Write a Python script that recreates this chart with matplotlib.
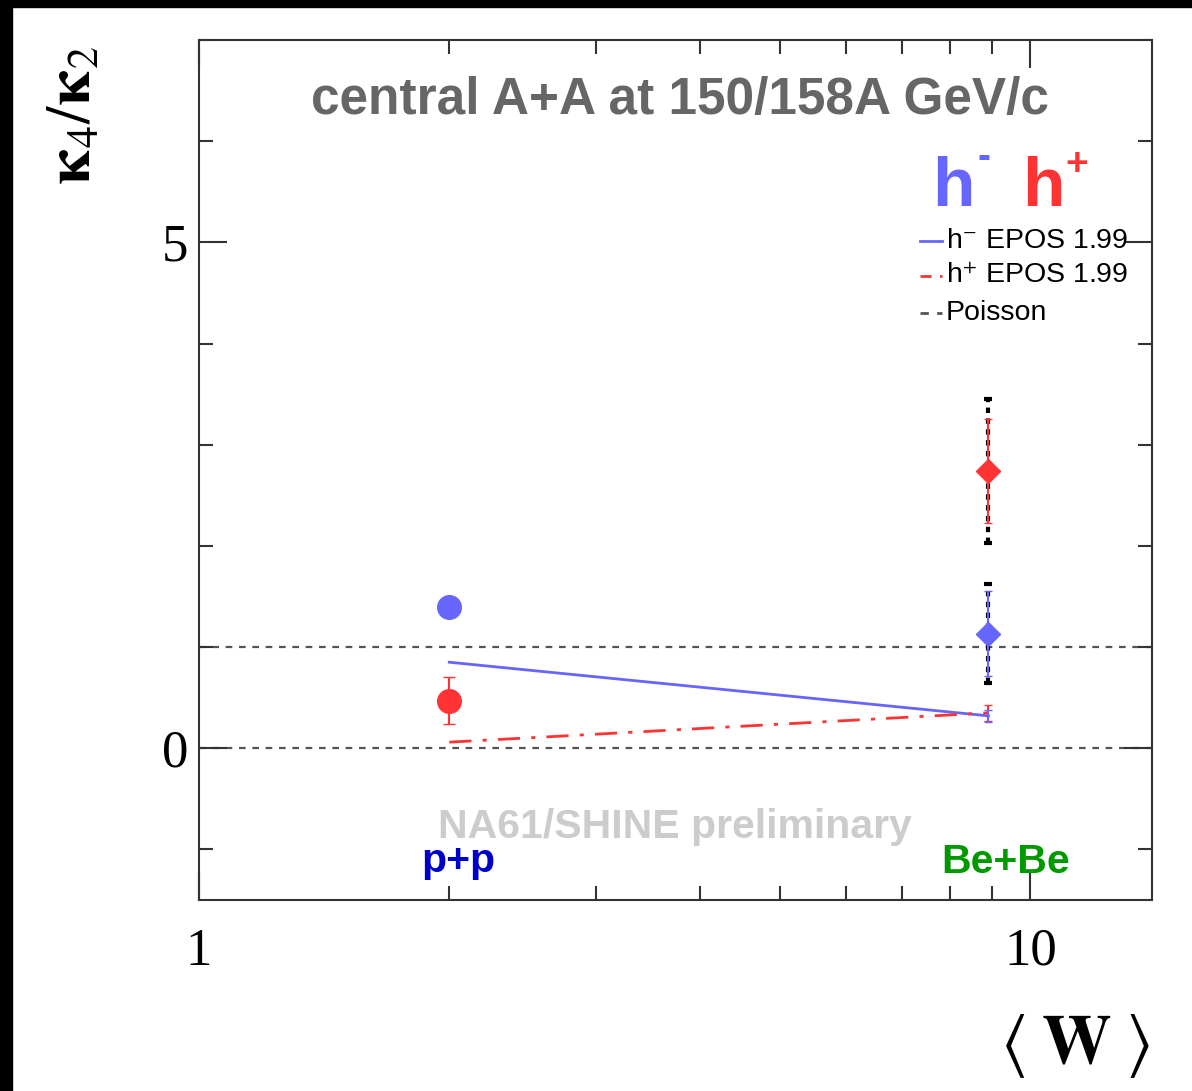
import numpy as np
import matplotlib
matplotlib.use('Agg')
import matplotlib.pyplot as plt
from matplotlib.patches import Rectangle

plt.rcParams['mathtext.fontset'] = 'stix'

# data
w_pp = 2.0
w_bebe = 8.9
w_data = [w_pp, w_bebe]

hm_vals = [1.40, 1.13]      # h- kappa4/kappa2
hm_stat = [0.05, 0.42]
hm_sys = [0.0, 0.49]
hp_vals = [0.47, 2.74]      # h+ kappa4/kappa2
hp_stat = [0.23, 0.51]
hp_sys = [0.0, 0.71]

epos_w = [2.0, 8.9]
epos_hm = [0.85, 0.32]
epos_hm_err = [0.0, 0.06]
epos_hp = [0.06, 0.35]
epos_hp_err = [0.0, 0.08]

poisson_levels = [1.0, 0.0]

blue = '#6666ff'
red = '#ff3333'
gray = '#555555'

fig = plt.figure(figsize=(11.92, 10.91), dpi=100)
ax = fig.add_axes([199/1192, (1091-900)/1091, (1152-199)/1192, (900-40)/1091])
ax.set_xscale('log')
ax.set_xlim(1, 14)
ax.set_ylim(-1.5, 7)

# poisson reference
for lv in poisson_levels:
    ax.axhline(lv, color=gray, ls=(0, (3, 3)), lw=1.6, zorder=1)

# EPOS curves
ax.plot(epos_w, epos_hm, color=blue, lw=2, zorder=2)
ax.plot(epos_w, epos_hp, color=red, lw=2, ls=(0, (8, 4, 1.5, 4)), zorder=2)
ax.errorbar(epos_w[1:], epos_hp[1:], yerr=epos_hp_err[1:], fmt='none', ecolor=red, elinewidth=1.5, capsize=3)
ax.errorbar(epos_w[1:], epos_hm[1:], yerr=epos_hm_err[1:], fmt='none', ecolor=blue, elinewidth=1.5, capsize=3)

# systematic errors (black dashed)
for vals, sysv in [(hp_vals, hp_sys), (hm_vals, hm_sys)]:
    eb = ax.errorbar(w_data[1:], vals[1:], yerr=sysv[1:], fmt='none', ecolor='black',
                     elinewidth=3, capsize=3, capthick=3, zorder=3)
    eb[2][0].set_linestyle((0, (1.3, 1.3)))

# stat errors + markers
ax.errorbar([w_pp], [hp_vals[0]], yerr=[hp_stat[0]], fmt='o', color=red, ms=17,
            elinewidth=1.5, capsize=4, zorder=4)
ax.errorbar([w_pp], [hm_vals[0]], yerr=[hm_stat[0]], fmt='o', color=blue, ms=17,
            elinewidth=1.5, capsize=4, zorder=4)
ax.errorbar([w_bebe], [hp_vals[1]], yerr=[hp_stat[1]], fmt='D', color=red, ms=12,
            elinewidth=1.5, capsize=3, zorder=4)
ax.errorbar([w_bebe], [hm_vals[1]], yerr=[hm_stat[1]], fmt='D', color=blue, ms=12,
            elinewidth=1.5, capsize=3, zorder=4)

# frame and ticks
for sp in ax.spines.values():
    sp.set_color('#333333')
    sp.set_linewidth(1.5)
ax.set_yticks([0, 5])
ax.set_yticklabels(['0', '5'])
ax.set_yticks(np.arange(-1, 8, 1), minor=True)
ax.set_xticks([1, 10])
ax.set_xticklabels(['1', '10'])
ax.xaxis.set_minor_formatter(plt.NullFormatter())
ax.tick_params(which='both', direction='in', top=True, right=True, color='#333333', width=1.5)
ax.tick_params(which='major', length=20)
ax.tick_params(which='minor', length=10)
ax.tick_params(axis='y', which='major', pad=8, labelsize=38)
ax.tick_params(axis='x', which='major', pad=20, labelsize=38)
for lab in ax.get_xticklabels() + ax.get_yticklabels():
    lab.set_fontfamily('Liberation Serif')

# axis titles
fig.text(74/1192, 1 - 115/1091, r'$\mathbf{\kappa}_4/\mathbf{\kappa}_2$', rotation=90,
         ha='center', va='center', fontsize=45)
fig.text(1075/1192, 1 - 1046/1091, r'$\langle\;\mathbf{W}\;\rangle$', ha='center', va='center', fontsize=50)

# annotations
ax.text(0.505, 0.93, 'central A+A at 150/158A GeV/c', transform=ax.transAxes, ha='center', va='center',
        fontsize=37, fontweight='bold', color='#666666', family='Liberation Sans')
# big h- / h+ labels
fig.text(953/1192, 1 - 188/1091, 'h', ha='center', va='center', fontsize=50,
         fontweight='bold', color=blue, family='Liberation Sans')
fig.text(984/1192, 1 - 158/1091, '-', ha='center', va='center', fontsize=28,
         fontweight='bold', color=blue, family='Liberation Sans')
fig.text(1043/1192, 1 - 188/1091, 'h', ha='center', va='center', fontsize=50,
         fontweight='bold', color=red, family='Liberation Sans')
fig.text(1077/1192, 1 - 165/1091, '+', ha='center', va='center', fontsize=28,
         fontweight='bold', color=red, family='Liberation Sans')

leg_y = [241, 276, 313]
leg_txt = [r'h$^{-}$ EPOS 1.99', r'h$^{+}$ EPOS 1.99', 'Poisson']
leg_col = [blue, red, gray]
leg_ls = ['-', (0, (4, 3, 1, 3)), (0, (3, 3))]
for yy, tt, cc, ls in zip(leg_y, leg_txt, leg_col, leg_ls):
    fy = 1 - yy/1091
    fig.add_artist(plt.Line2D([920/1192, 942/1192], [fy, fy], color=cc, ls=ls, lw=2))
    fig.text(946/1192, fy, tt, ha='left', va='center', fontsize=20.5, family='Liberation Sans')

fig.text(675/1192, 1 - 827/1091, 'NA61/SHINE preliminary', ha='center', va='center', fontsize=29.5,
         fontweight='bold', color='#cccccc', family='Liberation Sans')
fig.text(458/1192, 1 - 861/1091, 'p+p', ha='center', va='center', fontsize=29.5,
         fontweight='bold', color='#0000cc', family='Liberation Sans')
fig.text(1006/1192, 1 - 862/1091, 'Be+Be', ha='center', va='center', fontsize=29.5,
         fontweight='bold', color='#009900', family='Liberation Sans')

# black border of the screenshot
fig.add_artist(Rectangle((0, 1 - 7/1091), 1, 7/1091, transform=fig.transFigure, color='black'))
fig.add_artist(Rectangle((0, 0), 12/1192, 1, transform=fig.transFigure, color='black'))

fig.savefig('out.png', dpi=100)
